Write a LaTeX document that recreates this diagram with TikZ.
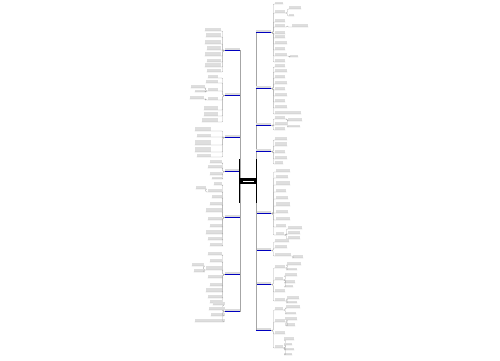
\documentclass[tikz,border=0pt]{standalone}
\begin{document}
\begin{tikzpicture}[x=1pt,y=-1pt,
  leaf/.style={fill=black!13, inner sep=0pt},
  mainbox/.style={fill=black!14, inner sep=0pt, minimum width=15, minimum height=3},
  blueline/.style={draw=blue!75!black, line width=1.2pt},
  spine/.style={draw=black!35, line width=0.5pt},
  conn/.style={draw=black!32, line width=0.3pt, rounded corners=1pt}]
\useasboundingbox[fill=white] (0,0) rectangle (500,360);

\newcommand\rbranch[4]{%
  \node[mainbox] (#1) at (263.5,#2-2) {};
  \draw[spine] (root.east) |- (#1.south west);
  \draw[blueline] (#1.south west) -- (#1.south east);
  \foreach \yy/\ww/\hh [count=\i] in {#4} {
    \node[leaf, minimum width=\ww, minimum height=\hh, anchor=south west] (#1-\i) at (#3,\yy) {};
    \draw[conn] (#1.south east) -- ++(2,0) |- (#1-\i.south west) -- (#1-\i.south east);
  }}
\newcommand\lbranch[4]{%
  \node[mainbox] (#1) at (232.5,#2-2) {};
  \draw[spine] (root.west) |- (#1.south east);
  \draw[blueline] (#1.south west) -- (#1.south east);
  \foreach \yy/\ww/\hh [count=\i] in {#4} {
    \node[leaf, minimum width=\ww, minimum height=\hh, anchor=south east] (#1-\i) at (#3,\yy) {};
    \draw[conn] (#1.south west) -- ++(-2,0) |- (#1-\i.south east) -- (#1-\i.south west);
  }}
\newcommand\rsub[3]{%
  \foreach \yy/\ww/\hh [count=\i] in {#3} {
    \node[leaf, minimum width=\ww, minimum height=\hh, anchor=south west] (#1-\i) at (#2,\yy) {};
    \draw[conn] (#1.south east) -- ++(2,0) |- (#1-\i.south west) -- (#1-\i.south east);
  }}
\newcommand\lsub[3]{%
  \foreach \yy/\ww/\hh [count=\i] in {#3} {
    \node[leaf, minimum width=\ww, minimum height=\hh, anchor=south east] (#1-\i) at (#2,\yy) {};
    \draw[conn] (#1.south west) -- ++(-2,0) |- (#1-\i.south east) -- (#1-\i.south west);
  }}

\coordinate (root) at (248,181);
\path (root) node[minimum width=16, minimum height=6, inner sep=0pt] (root) {};

% left branches
\lbranch{L1}{51}{221}{31/16/3, 37/15/4, 44/16/4, 50/14/4, 56/16/4, 62/14/3, 67/16/4, 72/14/3}
\lbranch{L2}{96}{218}{78/10/3, 83/12/3, 91/10/3, 100/10/3, 110/14/4, 116/14/4, 122/16/4}
\lsub{L2-3}{205}{88/14/3, 92/10/2}
\lsub{L2-4}{204}{99/14/3}
\lbranch{L3}{138}{211}{131/16/4, 137/14/3, 145/16/5, 152/16/5, 157/14/3}
\lbranch{L4}{172}{222}{163/12/3, 168/14/3, 175/12/3, 179/10/2}
\lbranch{L5}{218}{222}{185/8/3, 192/14/3, 198/10/3, 205/12/3, 212/16/4, 220/14/3, 227/12/3, 234/16/4, 240/14/3, 246/12/3}
\lsub{L5-2}{206}{189/10/3}
\lbranch{L6}{275}{222}{255/14/3, 262/12/3, 270/16/4, 278/14/3, 286/12/3, 292/16/4, 298/14/3, 303/12/3}
\lsub{L6-3}{204}{266/12/3, 272/10/3}
\lbranch{L7}{312}{225}{305/12/3, 310/16/3, 316/14/3, 322/30/3}

% right branches
\rbranch{R1}{33}{275}{4/8/2, 13/10/3, 22/10/3, 27/10/3, 34/10/3, 38/10/3, 44/12/3, 50/10/3, 56/12/3, 62/10/3}
\rsub{R1-2}{289}{9/12/3, 16/5/2}
\rsub{R1-4}{292}{27/16/3}
\rsub{R1-9}{290}{57/8/2}
\rbranch{R2}{89}{275}{67/10/3, 72/12/3, 78/10/3, 84/12/3, 90/10/3, 96/12/3, 102/10/3, 108/12/3, 114/26/3}
\rbranch{R3}{126}{275}{119/10/3, 125/12/3, 130/10/3}
\rsub{R3-1}{288}{121/14/3, 127/12/2}
\rbranch{R4}{152}{275}{140/12/3, 146/12/4, 153/10/3, 159/12/3, 164/8/3}
\rbranch{R5}{214}{276}{172/14/3, 178/12/3, 185/14/4, 192/10/3, 199/12/3, 206/14/4, 213/12/3, 220/14/3, 227/10/3, 235/8/3}
\rsub{R5-10}{288}{229/14/3, 234/12/3, 239/12/3}
\rbranch{R6}{251}{275}{242/14/3, 248/12/3, 256/16/3}
\rsub{R6-3}{293}{258/10/3}
\rbranch{R7}{285}{275}{268/10/3, 280/8/3, 292/10/3, 301/10/3}
\rsub{R7-1}{287}{265/14/3, 270/10/2}
\rsub{R7-2}{285}{276/12/3, 283/10/3, 287/8/2}
\rsub{R7-4}{287}{299/12/3, 303/10/2}
\rbranch{R8}{331}{275}{310/8/3, 322/10/3, 334/10/3, 348/8/3}
\rsub{R8-1}{286}{308/14/3, 314/10/2}
\rsub{R8-2}{285}{320/12/3, 326/10/3}
\rsub{R8-4}{284}{340/10/3, 345/8/2, 350/10/2, 355/8/2}

% root
\draw[black, line width=0.8pt] (root.west) ++(0,-22) -- ++(0,44);
\draw[black, line width=0.8pt] (root.east) ++(0,-22) -- ++(0,44);
\node[fill=black, minimum width=16, minimum height=6, inner sep=0pt] (rootbox) at (root) {};
\node[fill=white, minimum width=11, minimum height=1, inner sep=0pt] (rootlabel) at (root) {};
\end{tikzpicture}
\end{document}
